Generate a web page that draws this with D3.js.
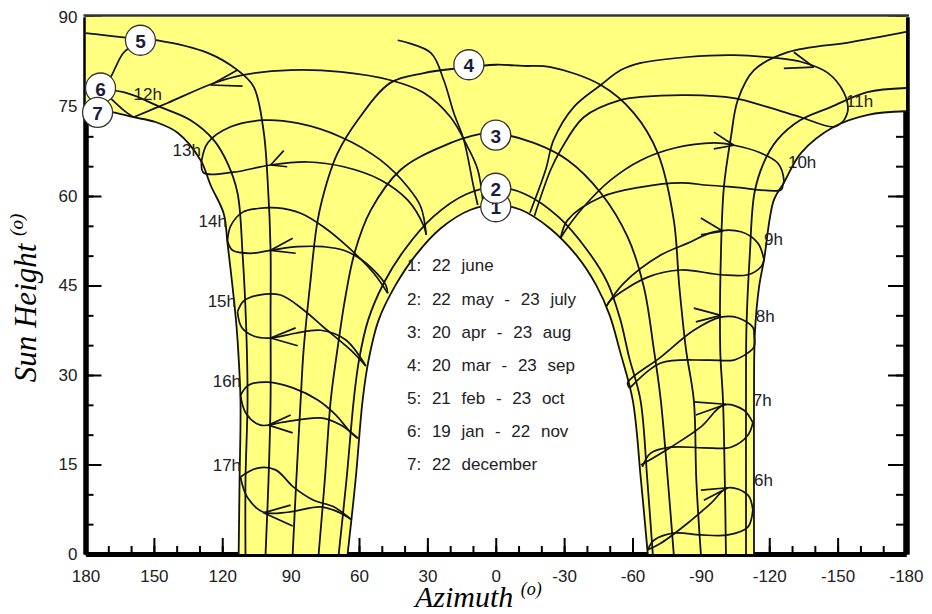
<!DOCTYPE html>
<html>
<head>
<meta charset="utf-8">
<script src="https://cdnjs.cloudflare.com/ajax/libs/d3/7.8.5/d3.min.js"></script>
<style>
  body { margin: 0; background: #fff; }
  svg { display: block; font-family: "Liberation Sans", Arial, sans-serif; }
</style>
</head>
<body>
<svg id="chart" width="932" height="614"></svg>
<script>
// axis ticks
const azTicks = [180, 150, 120, 90, 60, 30, 0, -30, -60, -90, -120, -150, -180];
const heightTicks = [0, 15, 30, 45, 60, 75, 90];

// date curves, [azimuth, sun height]; + = afternoon side (left), - = morning side (right)
const june = [[65,0],[61.5,12.4],[58.4,25.8],[55.8,32.5],[51.4,39.2],[43.9,45.1],[35.1,50.1],[24.1,54.6],[11,57.7],[0,58.5],
  [-11,57.7],[-23.7,54.6],[-35.5,50],[-44,45.1],[-50,40],[-54.5,34],[-60.1,25.8],[-63.7,12.4],[-66.7,0]];
const mayJuly = [[68.9,0],[65.5,12.4],[62.3,25.8],[60,32.5],[56,39.2],[49,45.5],[40,51],[27.5,56.5],[13,60.3],[0,61.5],
  [-13,60.3],[-27.5,56.5],[-40,51],[-49,45.5],[-54.5,39.5],[-58.5,33],[-63.5,25.8],[-66.5,12.4],[-68.9,0]];
const aprAug = [[77.7,0],[75,12.4],[72.4,25.8],[69.5,34.2],[66,43],[62,50.4],[55,57.5],[41.7,64.4],[24.1,68.2],[6.6,70.4],[0,70.5],
  [-16.7,68.9],[-31.6,66],[-46.1,60.5],[-57.9,53.1],[-65,44.7],[-69.4,34.2],[-72.4,25.8],[-75.5,12.4],[-78.1,0]];
const marSep = [[89.1,0],[87.5,12.4],[85.6,25.8],[84.3,34.2],[81.5,45],[78.1,56],[73.5,63],[69.4,67.2],[60.6,72.7],[46.1,79],[31.6,80.6],[16.7,81.4],[0,82],
  [-12,81.8],[-24.1,81.6],[-46.1,78.6],[-60.6,73.9],[-71.1,67.2],[-78.1,56],[-80.5,45],[-83.5,34.2],[-86.9,25.8],[-88,12.4],[-90,0]];
const febOctW = [[101,0],[99.7,12.4],[98.8,25.8],[98.8,40],[98.8,51],[100,62],[101.9,71],[106.2,78.3],[113.3,81.1],[126.4,84],[148.4,86.1],[163.3,86.6],[180,87.3]];
const febOctE = [[-180,87.5],[-155.9,85.8],[-128.2,84.1],[-113.3,81.1],[-106.2,76.1],[-103.2,69.9],[-100.1,61.5],[-98.8,50.4],[-98.5,34.2],[-99.7,25.8],[-100.5,12.4],[-101,0]];
const janNovW = [[109.8,0],[109.8,12.4],[108.9,25.8],[109.5,38],[111.1,50.4],[113.3,60.5],[117.7,65.5],[123.8,69.4],[133.9,72.7],[147.1,74.9],[163.3,77.4],[180,77.8]];
const janNovE = [[-180,78.1],[-163,77.4],[-147,74.9],[-133.5,72.7],[-123.5,69.4],[-117.5,65.5],[-113.5,60.5],[-111.5,50.4],[-110,38],[-109.8,25.8],[-109.8,12.4],[-109.8,0]];
const decW = [[112.8,0],[112.4,12.4],[112,25.8],[113.3,35.9],[114.1,39.7],[117.7,52.1],[119.4,57.1],[125.1,61.8],[129.5,66],[139.6,70.6],[149.3,72.4],[158.9,73.2],[169,74.1],[180,74.4]];
const decE = [[-180,74.2],[-163.3,73.6],[-148.4,71.6],[-133.9,67.2],[-126.4,62.2],[-122,59.3],[-117.7,49.3],[-115.5,44.7],[-113.7,37],[-113.3,25.8],[-113.3,12.4],[-113.3,0]];

// hour lines (each hour drawn as two halves of the year)
const h12 = [
  [[158.9,73.2],[144,75.6],[123.8,78.9],[110.6,80.3],[90,81.1],[68,80.8],[46.1,79.4],[31.6,77.3],[19.8,73.2],[12.3,68.2],[7.9,64.4],[5.7,59.3]],
  [[158.9,73.2],[163.3,74.4],[169,76.4],[173.4,78.1],[169,79.9],[166.8,81.6],[163.3,84],[155.9,86.1]],
  [[43,86.1],[28.5,84],[22.8,79.4],[18.4,73.9],[14,69.4],[9.7,61.5],[7.9,58.5]]];
const h13 = [
  [[129,66],[126.4,68.9],[116.3,71.6],[101.9,72.7],[86.9,72.2],[68,69.9],[50.5,66],[38.6,61.5],[32.9,58.2],[30.5,53.5]],
  [[129,66],[128.2,63.9],[115,64],[98.8,65.2],[82.5,65.7],[66.7,64.9],[50.5,62.7],[38.6,59.3],[31.6,55],[30.5,53.5]]];
const h14 = [
  [[117.7,52.5],[116.3,55],[111,57.3],[104.5,57.9],[95.7,58],[85.6,57.1],[75.5,54.8],[65,51.5],[53.6,47.1],[47.4,43.7]],
  [[117.7,52.5],[115.5,50.9],[107.6,50.4],[98.8,50.9],[86.9,51.5],[75.5,51.5],[66.7,50.9],[57,48.8],[48.3,45.1],[47.4,43.7]]];
const h15 = [
  [[113.3,40.6],[110.6,42.4],[104,43.4],[94.4,43.4],[84.3,40.9],[75.5,38],[63.7,34.2],[57,31.5]],
  [[113.3,40.6],[111.5,38],[106,36.5],[98.8,36.2],[87.8,37],[76.8,37.5],[65.9,35.9],[57,31.5]]];
const h16 = [
  [[112,26.6],[108.5,28.3],[100.1,28.8],[88.7,27.8],[78.1,25.8],[70.2,23.3],[63.7,20.4],[60.5,19.4]],
  [[112,26.6],[109.5,23.5],[103.2,21.6],[93.1,22.1],[76.8,22.8],[68,21.6],[60.5,19.4]]];
const h17 = [
  [[112,12.9],[104.5,14.4],[96.6,14.1],[88.7,11.2],[79.9,9],[71.1,7.9],[63.5,5.8]],
  [[112,12.9],[109,9.5],[101.9,7],[91.3,7],[76.8,7.9],[68.9,7],[63.5,5.8]]];
const h11 = [
  [[-15,57.2],[-21.9,64.4],[-25.4,69.4],[-34.2,74.9],[-46.1,78.6],[-54.9,81.1],[-63.7,82.3],[-84.3,83.3],[-104.5,83.6],[-123.8,83.1],[-133.9,82.5],[-145.8,80.6],[-152.8,77.3],[-154.5,74.4],[-152.8,72.7]],
  [[-17,56.7],[-24.1,64.4],[-28.5,67.7],[-38.6,73.2],[-54.9,76.1],[-63.7,76.6],[-84.3,76.9],[-104.5,76.4],[-119.4,74.9],[-133.9,73.2],[-148.4,71.6],[-152.8,72.7]]];
const h10 = [
  [[-28.5,53],[-31.6,54.8],[-38.6,58.2],[-50.5,62.7],[-63.7,66],[-78.1,68],[-95.7,68.9],[-104.5,68.5],[-116.3,67.2],[-123.8,65.5],[-126.4,62.7],[-126,61.8]],
  [[-28.5,53],[-31.6,56],[-46.1,59.8],[-63.7,61.5],[-81.2,62.2],[-93.1,61.8],[-104.5,61.5],[-125.1,61],[-126,61.8]]];
const h9 = [
  [[-117.7,49.3],[-115,52.1],[-107.6,54],[-95.7,54],[-84.3,52.1],[-72.4,50.1],[-56.2,45.4],[-48.5,41.5]],
  [[-117.7,49.3],[-116.3,48.1],[-110.6,46.8],[-98.8,46.8],[-81.2,47.6],[-66.7,46.4],[-50.5,42.6],[-48.5,41.5]]];
const h8 = [
  [[-113.3,36.7],[-112.8,38],[-106.2,39.6],[-98.8,39.7],[-86.9,37.5],[-72.4,33],[-57.9,28.7],[-58.8,27.8]],
  [[-113.3,36.7],[-113.3,34.7],[-110.6,33.7],[-104.5,32.5],[-93.1,32.5],[-72.4,32],[-59.3,28],[-58.8,27.8]]];
const h7 = [
  [[-63.7,14.9],[-76.8,17.9],[-90,21.3],[-100.1,25],[-108.9,24.1],[-112.8,22]],
  [[-112.8,22],[-110.6,19.9],[-103.2,17.9],[-91.3,17.8],[-76.8,17.9],[-68,16.9],[-64.3,14.6]]];
const h6 = [
  [[-66.7,0.7],[-72.4,1.8],[-84.3,5.2],[-94.4,8.5],[-101.9,11.1],[-110.6,9.9],[-112.8,7.4]],
  [[-112.8,7.4],[-110.6,4.5],[-101.9,3.2],[-90,3.2],[-78.1,3.5],[-69.4,2.3],[-66.7,0.7]]];

// arrow heads: [tip, barb, barb]
const arrowsW = [
  [[125.1,78.6],[111.1,78.4],[113.3,81.1]],
  [[98.8,65.2],[91.5,64.9],[93,67.6]],
  [[98.8,50.9],[87.8,50.4],[89.1,52.9]],
  [[98.8,36.2],[86.9,34.9],[87.8,37.9]],
  [[99.7,21.6],[89.1,20.3],[90,23.3]],
  [[101.9,6.9],[89.1,4.7],[90,8.2]]];
const arrowsE = [
  [[-139.6,81.6],[-126.4,81.4],[-130.8,84.1]],
  [[-104.5,68.5],[-95.7,70.7],[-95.7,67.9]],
  [[-99.7,54.1],[-90,56.3],[-90,53.5]],
  [[-98.8,40],[-86.9,41.2],[-87.8,38.9]],
  [[-101,25.1],[-86.9,25.5],[-87.8,23.3]],
  [[-101.9,11.1],[-90,10.7],[-91.3,9]]];

const hourLabels = ["12h", "13h", "14h", "15h", "16h", "17h", "11h", "10h", "9h", "8h", "7h", "6h"];
const hourLabelPos = [[158.9,76.9],[141.8,67.4],[130.4,55.5],[126.4,42.1],[124.2,28.7],[124.2,14.6],
  [-153.7,75.6],[-128.2,65.5],[-117.7,52.6],[-114.1,39.6],[-112.8,25.5],[-113.3,12.1]];

const curveIds = ["1", "2", "3", "4", "5", "6", "7"];
const curveIdPos = [[0,58.2],[0,61.3],[0,70.2],[11.8,82],[155.9,86.1],[173.4,78.1],[174.7,74]];

const legendLines = ["1: 22 june", "2: 22 may - 23 july", "3: 20 apr - 23 aug", "4: 20 mar - 23 sep",
  "5: 21 feb - 23 oct", "6: 19 jan - 22 nov", "7: 22 december"];

const svg = d3.select('#chart');
const x = d3.scaleLinear().domain([180, -180]).range([85.5, 906]);
const y = d3.scaleLinear().domain([0, 90]).range([554, 17]);
const ink = '#111';
const txt = '#222';

const line = d3.line().x(d => x(d[0])).y(d => y(d[1])).curve(d3.curveCatmullRom.alpha(0.5));

svg.append('defs').append('clipPath').attr('id', 'plot')
  .append('rect').attr('x', x(180)).attr('y', y(90)).attr('width', x(-180) - x(180)).attr('height', y(0) - y(90));

// axes first, the yellow band is painted over them
function styleAxis(g, w) {
  g.select('.domain').attr('stroke', '#000').attr('stroke-width', w);
  g.selectAll('.tick line').attr('stroke', '#000').attr('stroke-width', 2);
  g.selectAll('.tick text').attr('fill', txt).style('font-size', '17px').style('font-family', '"Liberation Sans", Arial, sans-serif');
}
const plain = d => String(d);
svg.append('g').attr('transform', `translate(${x(180)},0)`)
  .call(d3.axisLeft(y).tickValues(d3.range(0, 91, 5)).tickSize(-8).tickFormat('').tickSizeOuter(0))
  .call(g => styleAxis(g, 5));
svg.append('g').attr('transform', `translate(${x(180)},0)`)
  .call(d3.axisLeft(y).tickValues(heightTicks).tickSize(-16).tickPadding(8).tickFormat(plain).tickSizeOuter(0))
  .call(g => styleAxis(g, 5));
svg.append('g').attr('transform', `translate(${x(-180)},0)`)
  .call(d3.axisRight(y).tickValues(d3.range(0, 91, 5)).tickSize(-10).tickFormat('').tickSizeOuter(0))
  .call(g => styleAxis(g, 6));
svg.append('g').attr('transform', `translate(${x(-180)},0)`)
  .call(d3.axisRight(y).tickValues(heightTicks).tickSize(-18).tickFormat('').tickSizeOuter(0))
  .call(g => styleAxis(g, 6));
svg.append('g').attr('transform', `translate(0,${y(0)})`)
  .call(d3.axisBottom(x).tickValues(d3.range(-180, 181, 10)).tickSize(-8).tickFormat('').tickSizeOuter(0))
  .call(g => styleAxis(g, 5));
svg.append('g').attr('transform', `translate(0,${y(0)})`)
  .call(d3.axisBottom(x).tickValues(azTicks).tickSize(-16).tickPadding(16).tickFormat(plain).tickSizeOuter(0))
  .call(g => styleAxis(g, 5));

// yellow band between the december and june paths
const rev = a => a.slice().reverse();
const seg = a => line(a).replace(/^M/, 'L');
const fillD = `M${x(180)},${y(90)}` + seg(rev(decW)) + seg(june) + seg(rev(decE)) + `L${x(-180)},${y(90)}Z`;
const plot = svg.append('g').attr('clip-path', 'url(#plot)');
plot.append('path').attr('d', fillD).attr('fill', '#ffff80');

// date curves
[june, mayJuly, aprAug, marSep, febOctW, febOctE, janNovW, janNovE, decW, decE].forEach(p => {
  plot.append('path').attr('d', line(p)).attr('fill', 'none').attr('stroke', ink).attr('stroke-width', 1.8);
});

// hour lines
[h12, h13, h14, h15, h16, h17, h11, h10, h9, h8, h7, h6].forEach(h => {
  h.forEach(p => {
    plot.append('path').attr('d', line(p)).attr('fill', 'none').attr('stroke', ink).attr('stroke-width', 1.7);
  });
});

// arrows
arrowsW.concat(arrowsE).forEach(a => {
  [a[1], a[2]].forEach(b => {
    plot.append('line').attr('x1', x(a[0][0])).attr('y1', y(a[0][1])).attr('x2', x(b[0])).attr('y2', y(b[1]))
      .attr('stroke', ink).attr('stroke-width', 1.7);
  });
});

// thin top frame
svg.append('line').attr('x1', x(180) - 2).attr('x2', x(-180) + 3).attr('y1', 15.5).attr('y2', 15.5)
  .attr('stroke', '#333').attr('stroke-width', 2.5);

// hour labels
svg.append('g').selectAll('text').data(hourLabels).join('text')
  .attr('x', (d, i) => x(hourLabelPos[i][0])).attr('y', (d, i) => y(hourLabelPos[i][1]))
  .attr('dominant-baseline', 'middle').attr('fill', txt).style('font-size', '17px')
  .text(d => d);

// numbered circles
const ids = svg.append('g').selectAll('g').data(curveIds).join('g')
  .attr('transform', (d, i) => `translate(${x(curveIdPos[i][0])},${y(curveIdPos[i][1])})`);
ids.append('circle').attr('r', 15).attr('fill', '#fff').attr('stroke', '#333').attr('stroke-width', 1.3);
ids.append('text').attr('text-anchor', 'middle').attr('dominant-baseline', 'central').attr('y', 1)
  .attr('fill', '#1c1c3c').style('font-size', '19px').style('font-weight', 'bold').text(d => d);

// legend
svg.append('g').selectAll('text').data(legendLines).join('text')
  .attr('x', 407).attr('y', (d, i) => 267 + i * 33.1)
  .attr('dominant-baseline', 'middle').attr('fill', txt)
  .style('font-size', '17px').style('word-spacing', '6px')
  .text(d => d);

// axis titles
const yt = svg.append('text').attr('transform', 'translate(36,298) rotate(-90)').attr('text-anchor', 'middle')
  .style('font-family', '"Liberation Serif", "Times New Roman", serif').style('font-style', 'italic')
  .style('font-size', '31px').attr('fill', '#000');
yt.append('tspan').text('Sun Height ');
yt.append('tspan').attr('dy', -13).style('font-size', '19px').text('(o)');

const xt = svg.append('text').attr('x', 415).attr('y', 607)
  .style('font-family', '"Liberation Serif", "Times New Roman", serif').style('font-style', 'italic')
  .style('font-size', '30px').attr('fill', '#000');
xt.append('tspan').text('Azimuth ');
xt.append('tspan').attr('dy', -12).style('font-size', '18px').text('(o)');
</script>
</body>
</html>
